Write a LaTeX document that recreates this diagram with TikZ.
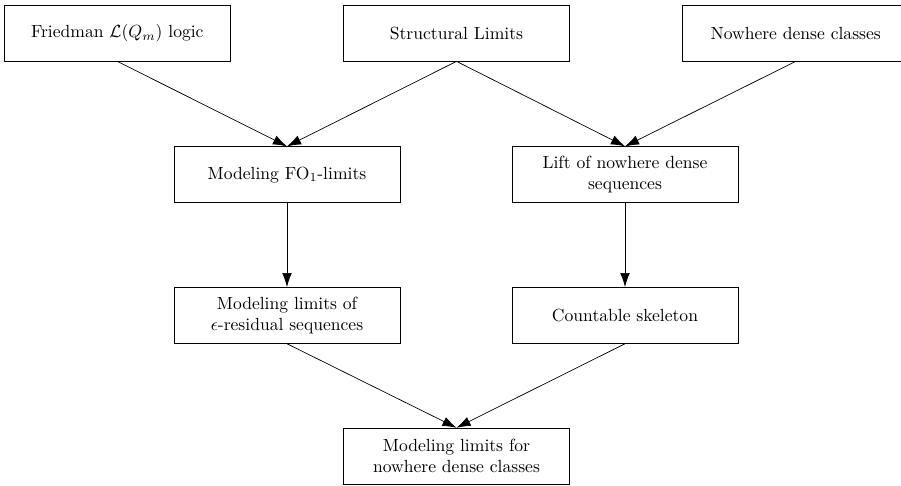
\documentclass[tikz,border=0pt]{standalone}
\usepackage{tikz}
\usetikzlibrary{positioning,arrows.meta}

\begin{document}
\begin{tikzpicture}[node distance=1.7cm, every node/.style={align=center},
    box/.style={draw, fill=white, minimum width=4.52cm, minimum height=1.12cm},
    arr/.style={-{Latex[length=8pt, width=5.5pt]}}]
  \useasboundingbox (0,0) rectangle (18.02,-9.70);
  \node[box] (sl) at (9.13,-0.66) {Structural Limits};
  \node[box, left=2.25cm of sl] (fr) {Friedman $\mathcal{L}(Q_m)$ logic};
  \node[box, right=2.25cm of sl] (nd) {Nowhere dense classes};
  \node[box, below=of sl, xshift=-3.39cm] (fo) {Modeling FO$_1$-limits};
  \node[box, below=of sl, xshift=3.37cm] (lift) {Lift of nowhere dense\\sequences};
  \node[box, below=1.68cm of fo] (res) {Modeling limits of\\$\epsilon$-residual sequences};
  \node[box, below=1.68cm of lift] (cs) {Countable skeleton};
  \node[box, below=1.68cm of res, xshift=3.39cm] (fin) {Modeling limits for\\nowhere dense classes};
  \draw[arr] (fr.south) -- (fo.north);
  \draw[arr] (sl.south) -- (fo.north);
  \draw[arr] (sl.south) -- (lift.north);
  \draw[arr] (nd.south) -- (lift.north);
  \draw[arr] (fo) -- (res);
  \draw[arr] (lift) -- (cs);
  \draw[arr] (res.south) -- (fin.north);
  \draw[arr] (cs.south) -- (fin.north);
\end{tikzpicture}
\end{document}
